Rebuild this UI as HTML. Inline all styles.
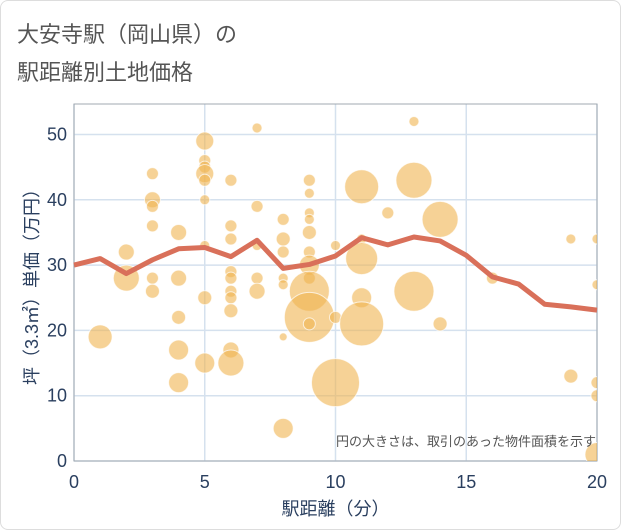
<!DOCTYPE html>
<html><head><meta charset="utf-8"><style>
body{margin:0;background:#fff;}
#wrap{position:relative;width:619px;height:528px;border:1px solid #ddd;border-radius:8px;overflow:hidden;font-family:"Liberation Sans","Noto Sans CJK JP",sans-serif;}
.t{position:absolute;left:16px;font-size:22px;color:#555;}
</style></head><body>
<div id="wrap">
<div class="t" style="top:16px">大安寺駅（岡山県）の</div>
<div class="t" style="top:54px">駅距離別土地価格</div>
<svg id="svg" width="621" height="530" style="position:absolute;left:0;top:0"></svg>
</div>
<script>
const xTicks=[0,5,10,15,20];
const yTicks=[0,10,20,30,40,50];
const lineX=[0,1,2,3,4,5,6,7,8,9,10,11,12,13,14,15,16,17,18,19,20];
const lineY=[30,31,28.7,30.8,32.5,32.7,31.3,33.8,29.5,30.1,31.4,34.2,33.1,34.3,33.7,31.5,28.2,27.1,24,23.6,23.1];
const bubX=[1,2,2,3,3,3,3,3,3,4,4,4,4,4,5,5,5,5,5,5,5,5,5,6,6,6,6,6,6,6,6,6,6,7,7,7,7,7,8,8,8,8,8,8,8,9,9,9,9,9,9,9,9,9,9,9,10,10,10,11,11,11,11,11,12,13,13,13,14,14,16,19,19,20,20,20,20,20];
const bubY=[19,32,28,44,40,39,36,28,26,35,28,22,17,12,49,46,45,44,43,40,33,25,15,43,36,34,29,28,26,25,23,17,15,51,39,33,28,26,37,34,32,28,27,19,5,43,41,38,37,35,32,30,28,26,22,21,33,22,12,42,34,31,25,21,38,52,43,26,37,21,28,34,13,34,27,12,10,1];
const bubR=[12,8,13,6,8,6,6,6,7,8,8,7,10,10,9,6,6,9,6,5,5,7,10,6,6,6,6,6,6,6,7,8,13,5,6,5,6,8,6,7,6,5,5,4,10,6,5,5,5,7,6,10,6,20,25,6,5,6,24,17,5,16,10,22,6,5,18,20,18,7,6,5,7,5,5,6,6,12];
const L=73,R=596,T=103,B=460;
const sx=v=>L+(R-L)*v/20, sy=v=>B-(B-133.5)*v/50;
const svg=document.getElementById('svg');const NS='http://www.w3.org/2000/svg';
function mk(tag,attrs,parent){const e=document.createElementNS(NS,tag);for(const k in attrs)e.setAttribute(k,attrs[k]);(parent||svg).appendChild(e);return e;}
const clip=mk('clipPath',{id:'c'});mk('rect',{x:L,y:T,width:R-L,height:B-T},clip);
xTicks.forEach(v=>{const g=mk('line',{x1:sx(v),x2:sx(v),y1:T,y2:B,stroke:'#d5e1ee','stroke-width':1.5});


const t=mk('text',{x:sx(v),y:487,'text-anchor':'middle','font-size':18,fill:'#2a3f5f'});t.textContent=v;

});
yTicks.forEach(v=>{const g=mk('line',{x1:L,x2:R,y1:sy(v),y2:sy(v),stroke:'#d5e1ee','stroke-width':1.5});


const t=mk('text',{x:66,y:sy(v)+6,'text-anchor':'end','font-size':18,fill:'#2a3f5f'});t.textContent=v;

});
const frame=mk('rect',{x:L,y:T,width:R-L,height:B-T,fill:'none',stroke:'#a0a8b0','stroke-width':1});


const gb=mk('g',{'clip-path':'url(#c)'});
bubX.forEach((x,i)=>{const c=mk('circle',{cx:sx(x),cy:sy(bubY[i]),r:bubR[i],fill:'rgba(240,180,80,0.6)',stroke:'rgba(255,255,255,0.7)','stroke-width':1},gb);

});
const p=mk('polyline',{points:lineX.map((x,i)=>sx(x)+','+sy(lineY[i])).join(' '),fill:'none',stroke:'#d9705a','stroke-width':5,'stroke-linejoin':'round'});


const note=mk('text',{x:595,y:445,'text-anchor':'end','font-size':13,fill:'#555'});note.textContent='円の大きさは、取引のあった物件面積を示す';


const xt=mk('text',{x:sx(10),y:514,'text-anchor':'middle','font-size':18,fill:'#2a3f5f'});xt.textContent='駅距離（分）';


const yt=mk('text',{x:0,y:0,'text-anchor':'middle','font-size':18,fill:'#2a3f5f',transform:'translate(37,'+((T+B)/2)+') rotate(-90)'});yt.textContent='坪（3.3㎡）単価（万円）';


</script>
</body></html>
